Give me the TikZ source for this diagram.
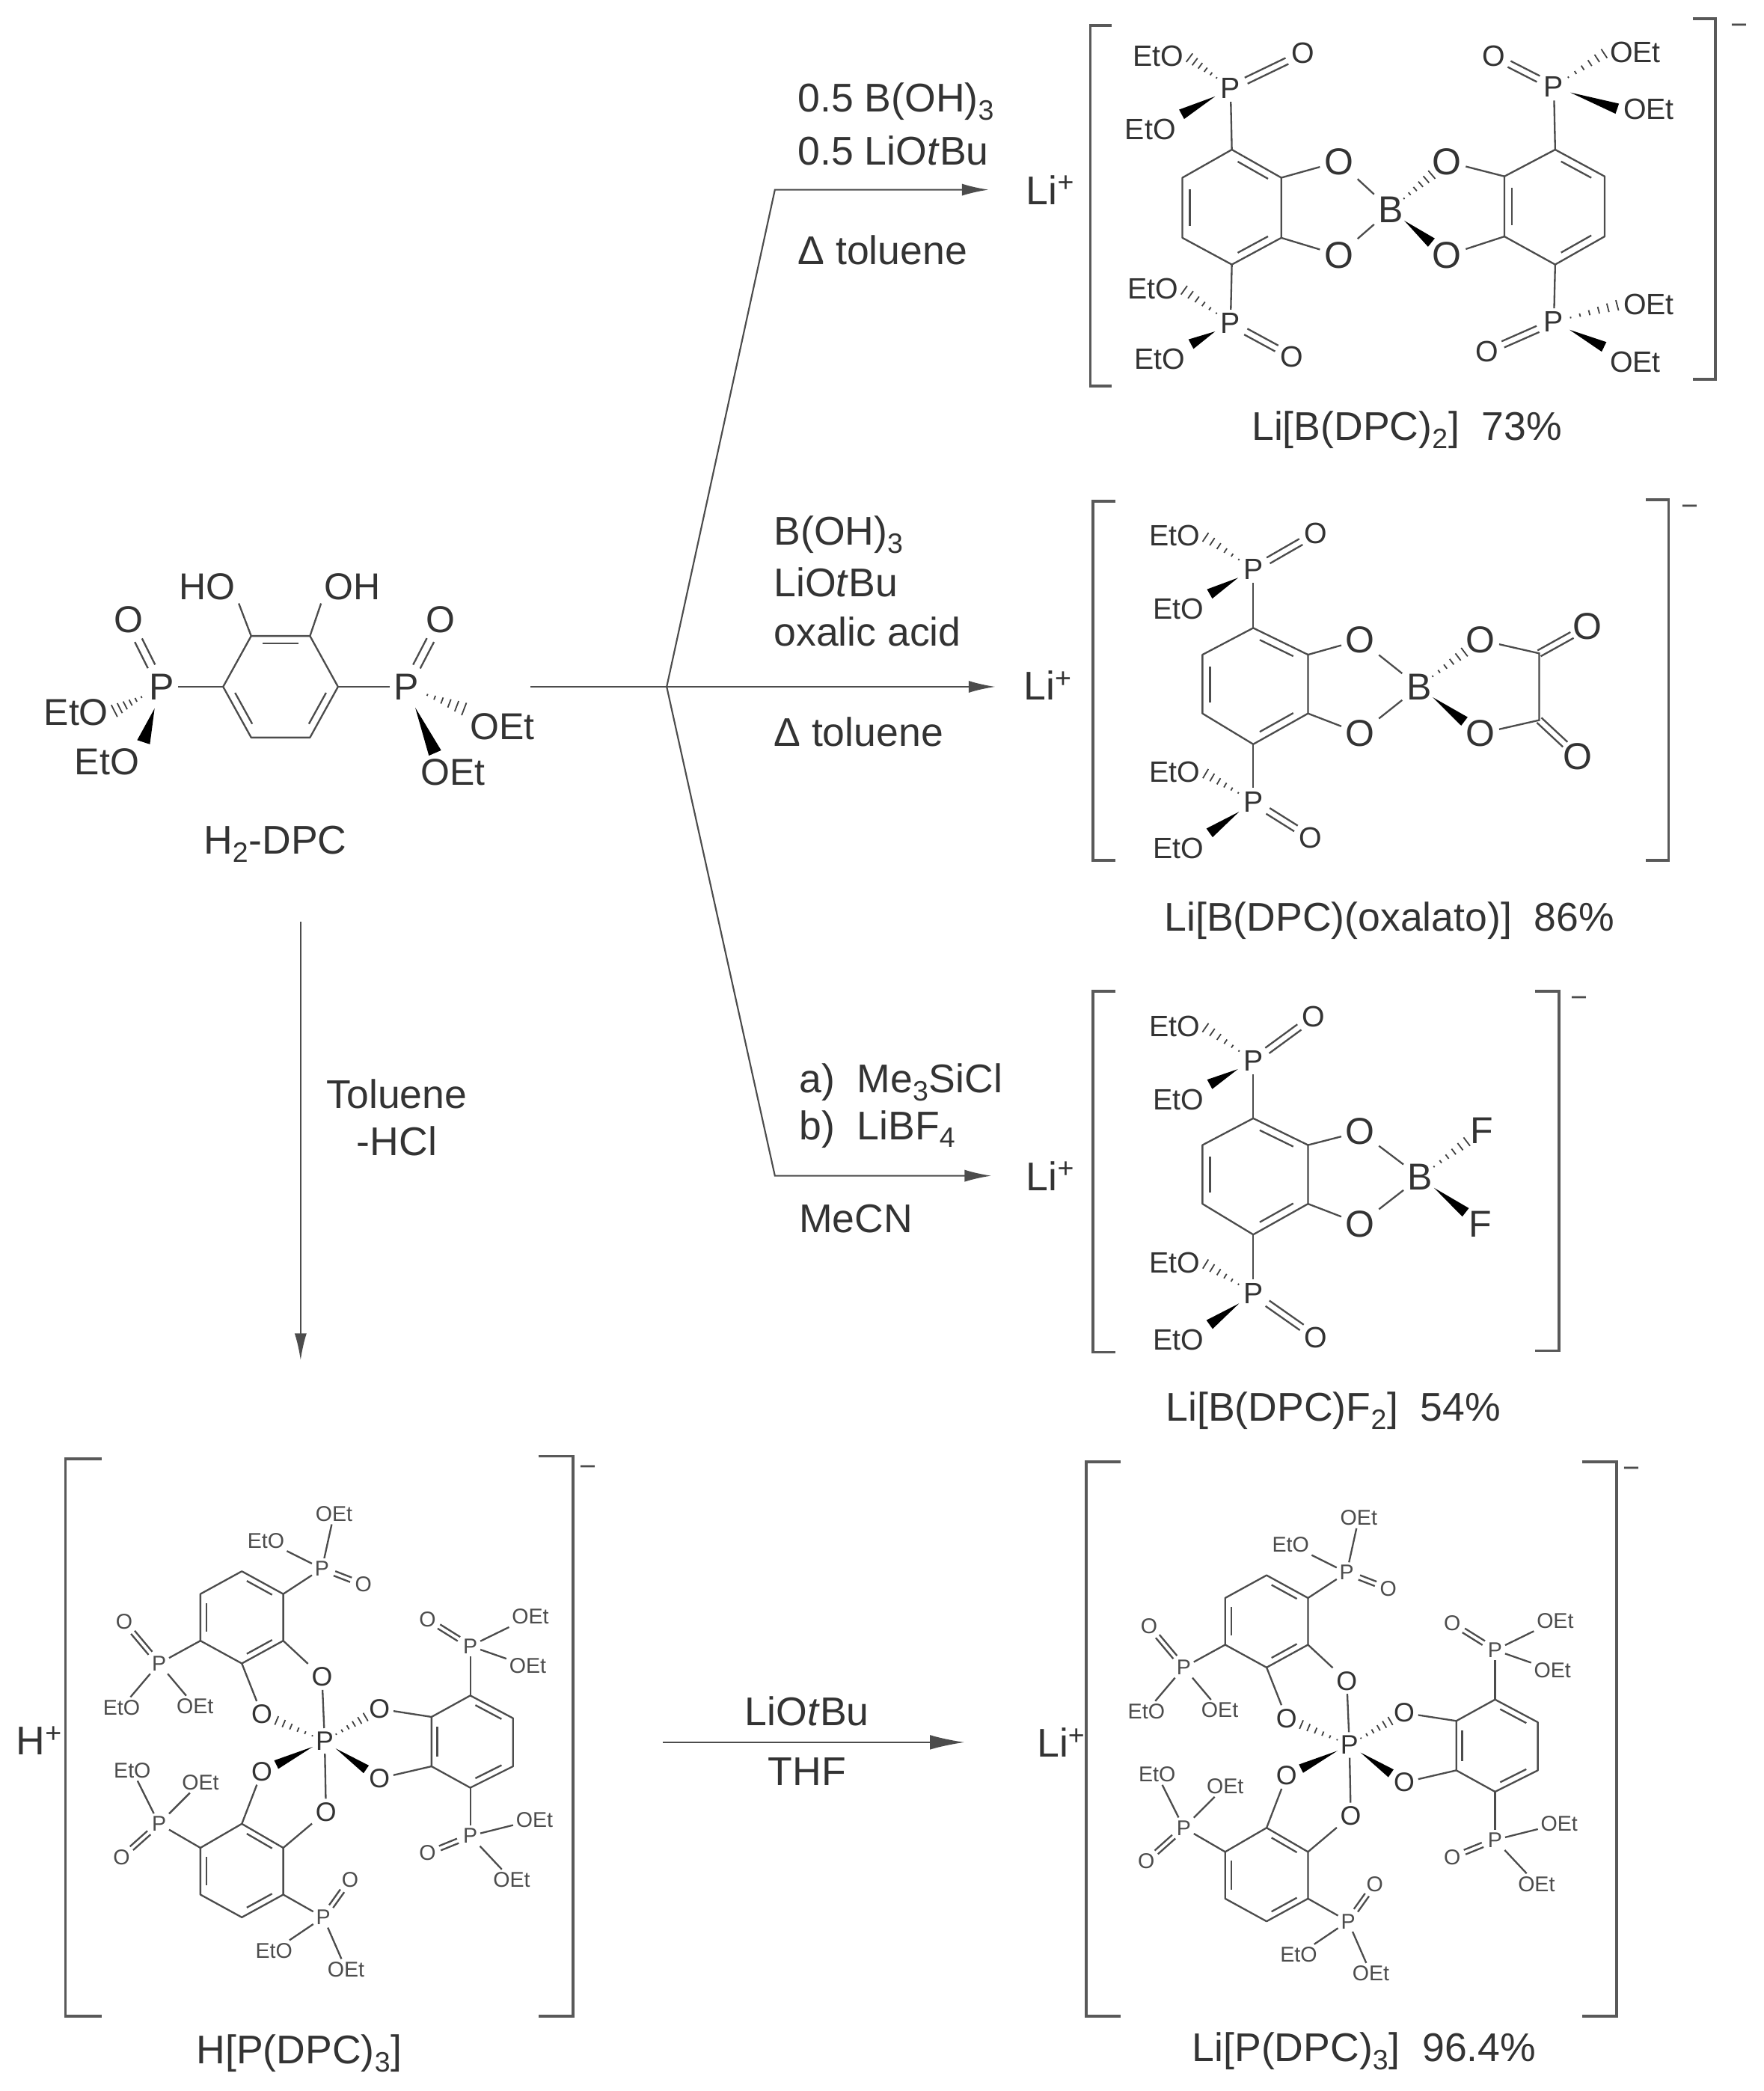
\documentclass[tikz,border=0pt]{standalone}
\usepackage{fontspec}
\setmainfont{Liberation Sans}
\usetikzlibrary{calc,arrows.meta}

\tikzset{
	bond/.style={line width=1.3pt, draw=black!70},
	brk/.style={line width=2pt, draw=black!65},
	rxn/.style={line width=1.2pt, draw=black!70, -{Latex[length=20pt,width=9pt]}},
	capt/.style={font=\fontsize{30}{34}\selectfont, text=black!80, inner sep=0pt},
	reag/.style={capt, anchor=west},
	core/.style={font=\fontsize{28}{31}\selectfont, text=black!80, inner sep=3pt},
	sub/.style={font=\fontsize{22}{25}\selectfont, text=black!80, inner sep=2.5pt},
	chg/.style={font=\fontsize{22}{25}\selectfont, text=black!70, inner sep=0pt},
	pcore/.style={font=\fontsize{20}{23}\selectfont, text=black!80, inner sep=2.5pt},
	psub/.style={font=\fontsize{16}{19}\selectfont, text=black!70, inner sep=2pt},
	pcomplex/.pic={
		\def\atomgap{10pt}\def\wedgew{3.5}\def\dblw{1.8pt}
		% central P and its oxygens
		\node[pcore] (pc) at (243,1303) {P};
		\node[pcore] (oa) at (241,1255) {O};
		\node[pcore] (ob) at (196,1283) {O};
		\node[pcore] (oc) at (196,1326) {O};
		\node[pcore] (od) at (244,1356) {O};
		\node[pcore] (oe) at (284,1279) {O};
		\node[pcore] (of) at (284,1331) {O};
		\draw[bond] (pc) -- (oa);
		\draw[bond] (pc) -- (od);
		\hashbond[12pt]{pc}{ob}
		\hashbond[12pt]{pc}{oe}
		\wedgebond[12pt]{pc}{oc}
		\wedgebond[12pt]{pc}{of}
		% rings
		\hexring{ra}{181,1176}{212,1193}{212,1228}{181,1245}{150,1228}{150,1193}
		\hexring{rb}{181,1365}{212,1383}{212,1418}{181,1435}{150,1418}{150,1383}
		\hexring{rc}{352,1269}{384,1286}{384,1322}{352,1338}{323,1322}{323,1285}
		\draw[bond] (ra3) -- (oa);
		\draw[bond] (ra4) -- (ob);
		\draw[bond] (rb1) -- (oc);
		\draw[bond] (rb2) -- (od);
		\draw[bond] (rc6) -- (oe);
		\draw[bond] (rc5) -- (of);
		% phosphonate groups
		\smallphos{ga}{241,1174}{OEt}{250,1133}{EtO}{199,1153}{272,1186}
		\smallphos{gb}{119,1245}{EtO}{91,1278}{OEt}{146,1277}{93,1214}
		\smallphos{gc}{119,1365}{EtO}{99,1325}{OEt}{150,1334}{91,1390}
		\smallphos{gd}{242,1435}{EtO}{205,1460}{OEt}{259,1474}{262,1407}
		\smallphos{ge}{352,1232}{OEt}{397,1210}{OEt}{395,1247}{320,1212}
		\smallphos{gf}{352,1374}{OEt}{400,1362}{OEt}{383,1407}{320,1387}
		\draw[bond] (ra2) -- (gap);
		\draw[bond] (ra5) -- (gbp);
		\draw[bond] (rb6) -- (gcp);
		\draw[bond] (rb3) -- (gdp);
		\draw[bond] (rc1) -- (gep);
		\draw[bond] (rc4) -- (gfp);
	}
}

\def\atomgap{13pt}
\def\wedgew{4}
\def\dblw{2.5pt}

% wedge and hash go from a P or B to an atom, optional arg = gap at the far end
\newcommand{\wedgebond}[3][2pt]{
	\fill[black] ($(#2)!\atomgap!(#3)$) -- ($(#3)!#1!(#2)!\wedgew pt!90:(#2)$) -- ($(#3)!#1!(#2)!\wedgew pt!-90:(#2)$) -- cycle;
}
\newcommand{\hashbond}[3][2pt]{
	\coordinate (hs) at ($(#2)!\atomgap!(#3)$);
	\coordinate (he) at ($(#3)!#1!(#2)$);
	\foreach \t in {0,.2,.4,.6,.8,1}{
		\pgfmathsetmacro{\hw}{(0.15+\t*0.85)*\wedgew}
		\draw[line width=1pt, black!75] ($(hs)!\t!(he)+(hs)!\hw pt!90:(he)-(hs)$) -- ($(hs)!\t!(he)+(hs)!\hw pt!-90:(he)-(hs)$);
	}
}
\newcommand{\dblbond}[3][\atomgap]{
	\draw[bond] ($(#2)!#1!(#3)!\dblw!90:(#3)$) -- ($(#3)!\atomgap!(#2)!\dblw!-90:(#2)$);
	\draw[bond] ($(#2)!#1!(#3)!\dblw!-90:(#3)$) -- ($(#3)!\atomgap!(#2)!\dblw!90:(#2)$);
}
% six corners, double bonds always on 1-2, 3-4, 5-6
\newcommand{\hexring}[7]{
	\draw[bond, line join=round] (#2) coordinate (#11) -- (#3) coordinate (#12) -- (#4) coordinate (#13) -- (#5) coordinate (#14) -- (#6) coordinate (#15) -- (#7) coordinate (#16) -- cycle;
	\coordinate (#1c) at ($(#11)!.5!(#14)$);
	\draw[bond] ($(#11)!.14!(#12)!.15!(#1c)$) -- ($(#12)!.14!(#11)!.15!(#1c)$);
	\draw[bond] ($(#13)!.14!(#14)!.15!(#1c)$) -- ($(#14)!.14!(#13)!.15!(#1c)$);
	\draw[bond] ($(#15)!.14!(#16)!.15!(#1c)$) -- ($(#16)!.14!(#15)!.15!(#1c)$);
}
% name, P, hash pos, text, anchor, wedge pos, text, anchor, O pos
\newcommand{\phos}[9]{
	\node[sub] (#1p) at (#2) {P};
	\node[sub] (#1h) at (#3) {#4};
	\node[sub] (#1w) at (#6) {#7};
	\node[sub] (#1o) at (#9) {O};
	\hashbond{#1p}{#1h.#5}
	\wedgebond{#1p}{#1w.#8}
	\dblbond{#1p}{#1o}
}
% the plain version used in the P complexes
\newcommand{\smallphos}[7]{
	\node[psub] (#1p) at (#2) {P};
	\node[psub] (#1h) at (#4) {#3};
	\node[psub] (#1w) at (#6) {#5};
	\node[psub] (#1o) at (#7) {O};
	\draw[bond] (#1p) -- (#1h);
	\draw[bond] (#1p) -- (#1w);
	\dblbond{#1p}{#1o}
}

\begin{document}
\begin{tikzpicture}[x=1pt,y=-1pt]
	\useasboundingbox (0,0) rectangle (1320,1565);

	% Arrows
	\coordinate (start) at (397,514);
	\coordinate (fork) at (499,514);
	\coordinate (endB) at (745,514);
	\coordinate (bendA) at (580,142);
	\coordinate (endA) at (740,142);
	\coordinate (bendC) at (580,880);
	\coordinate (endC) at (742,880);
	\coordinate (downS) at (225,690);
	\coordinate (downE) at (225,1018);
	\coordinate (lowS) at (496,1304);
	\coordinate (lowE) at (722,1304);
	\draw[rxn] (start) -- (endB);
	\draw[rxn] (fork) -- (bendA) -- (endA);
	\draw[rxn] (fork) -- (bendC) -- (endC);
	\draw[rxn] (downS) -- (downE);
	\draw[rxn, -{Latex[length=26pt,width=11pt]}] (lowS) -- (lowE);

	% Reagents
	\node[reag] (reagA) at (597,76) {0.5 B(OH)\textsubscript{3}};
	\node[reag] (reagB) at (597,113) {0.5 LiO\textit{t}Bu};
	\node[reag] (reagC) at (597,187) {Δ toluene};
	\node[reag] (reagD) at (579,400) {B(OH)\textsubscript{3}};
	\node[reag] (reagE) at (579,436) {LiO\textit{t}Bu};
	\node[reag] (reagF) at (579,473) {oxalic acid};
	\node[reag] (reagG) at (579,548) {Δ toluene};
	\node[reag] (reagH) at (598,810) {a)~~Me\textsubscript{3}SiCl};
	\node[reag] (reagI) at (598,845) {b)~~LiBF\textsubscript{4}};
	\node[reag] (reagJ) at (598,912) {MeCN};
	\node[capt] (reagK) at (297,819) {Toluene};
	\node[capt] (reagL) at (297,854) {-HCl};
	\node[capt] (reagM) at (604,1281) {LiO\textit{t}Bu};
	\node[capt] (reagN) at (604,1326) {THF};

	% Captions and counter ions
	\node[capt] (capA) at (206,632) {H\textsubscript{2}-DPC};
	\node[capt] (capB) at (1053,322) {Li[B(DPC)\textsubscript{2}]~~73\%};
	\node[capt] (capC) at (1040,689) {Li[B(DPC)(oxalato)]~~86\%};
	\node[capt] (capD) at (998,1056) {Li[B(DPC)F\textsubscript{2}]~~54\%};
	\node[capt] (capE) at (224,1537) {H[P(DPC)\textsubscript{3}]};
	\node[capt] (capF) at (1021,1535) {Li[P(DPC)\textsubscript{3}]~~96.4\%};
	\node[reag] (ionA) at (768,142) {Li\textsuperscript{+}};
	\node[reag] (ionB) at (766,513) {Li\textsuperscript{+}};
	\node[reag] (ionC) at (768,880) {Li\textsuperscript{+}};
	\node[reag] (ionD) at (12,1303) {H\textsuperscript{+}};
	\node[reag] (ionE) at (776,1304) {Li\textsuperscript{+}};

	% H2-DPC
	\begin{scope}[sub/.append style={font=\fontsize{28}{31}\selectfont}]
		\def\atomgap{17pt}\def\wedgew{5}\def\dblw{3pt}
		\hexring{da}{188,476}{232,476}{253,514}{232,552}{188,552}{167,514}
		\node[sub] (hoa) at (155,439) {HO};
		\node[sub] (hob) at (264,439) {OH};
		\draw[bond] (da1) -- (hoa.south east);
		\draw[bond] (da2) -- (hob.south west);
		\phos{dl}{121,514}{57,533}{EtO}{east}{80,570}{EtO}{north east}{96,464}
		\phos{dr}{304,514}{376,544}{OEt}{north west}{339,578}{OEt}{135}{330,464}
		\draw[bond] (da6) -- (dlp);
		\draw[bond] (da3) -- (drp);
	\end{scope}

	% Li[B(DPC)2]
	\draw[brk] (832,19) -- (816,19) -- (816,289) -- (832,289);
	\draw[brk] (1267,14) -- (1284,14) -- (1284,284) -- (1267,284);
	\node[chg] (minA) at (1302,22) {−};
	\hexring{ta}{922,112}{959,133}{959,178}{922,198}{885,178}{885,133}
	\hexring{tb}{1164,112}{1201,132}{1201,177}{1164,198}{1126,177}{1126,132}
	\node[core] (tb0) at (1041,157) {B};
	\node[core] (to1) at (1002,121) {O};
	\node[core] (to2) at (1002,191) {O};
	\node[core] (to3) at (1083,121) {O};
	\node[core] (to4) at (1083,191) {O};
	\draw[bond] (ta2) -- (to1) -- (tb0) -- (to2) -- (ta3);
	\draw[bond] (tb6) -- (to3);
	\draw[bond] (tb5) -- (to4);
	\hashbond[15pt]{tb0}{to3}
	\wedgebond[15pt]{tb0}{to4}
	\phos{tp}{921,66}{867,42}{EtO}{east}{861,97}{EtO}{north east}{975,40}
	\phos{tq}{921,242}{863,216}{EtO}{east}{868,269}{EtO}{north east}{967,267}
	\phos{tr}{1163,65}{1224,39}{OEt}{west}{1234,82}{OEt}{west}{1118,42}
	\phos{ts}{1163,241}{1234,228}{OEt}{west}{1224,271}{OEt}{north west}{1113,263}
	\draw[bond] (ta1) -- (tpp);
	\draw[bond] (ta4) -- (tqp);
	\draw[bond] (tb1) -- (trp);
	\draw[bond] (tb4) -- (tsp);

	% Li[B(DPC)(oxalato)]
	\draw[brk] (835,375) -- (818,375) -- (818,644) -- (835,644);
	\draw[brk] (1232,374) -- (1249,374) -- (1249,644) -- (1232,644);
	\node[chg] (minB) at (1265,382) {−};
	\hexring{ma}{938,470}{979,490}{979,534}{938,557}{900,534}{900,490}
	\node[core] (mb0) at (1062,514) {B};
	\node[core] (mo1) at (1018,479) {O};
	\node[core] (mo2) at (1018,549) {O};
	\node[core] (mo3) at (1108,479) {O};
	\node[core] (mo4) at (1108,549) {O};
	\node[core] (mo5) at (1188,469) {O};
	\node[core] (mo6) at (1181,566) {O};
	\coordinate (mc1) at (1152,489);
	\coordinate (mc2) at (1152,539);
	\draw[bond] (ma2) -- (mo1) -- (mb0) -- (mo2) -- (ma3);
	\draw[bond] (mo3) -- (mc1) -- (mc2) -- (mo4);
	\dblbond[0pt]{mc1}{mo5}
	\dblbond[0pt]{mc2}{mo6}
	\hashbond[15pt]{mb0}{mo3}
	\wedgebond[15pt]{mb0}{mo4}
	\phos{mp}{938,426}{879,401}{EtO}{east}{882,456}{EtO}{north east}{985,399}
	\phos{mq}{938,600}{879,578}{EtO}{east}{882,635}{EtO}{north east}{981,627}
	\draw[bond] (ma1) -- (mpp);
	\draw[bond] (ma4) -- (mqp);

	% Li[B(DPC)F2]
	\draw[brk] (835,742) -- (818,742) -- (818,1012) -- (835,1012);
	\draw[brk] (1149,742) -- (1167,742) -- (1167,1011) -- (1149,1011);
	\node[chg] (minC) at (1182,750) {−};
	\hexring{fa}{938,837}{979,857}{979,901}{938,924}{900,901}{900,857}
	\node[core] (fb0) at (1063,881) {B};
	\node[core] (fo1) at (1018,847) {O};
	\node[core] (fo2) at (1018,916) {O};
	\node[core] (ff1) at (1109,846) {F};
	\node[core] (ff2) at (1108,916) {F};
	\draw[bond] (fa2) -- (fo1) -- (fb0) -- (fo2) -- (fa3);
	\hashbond[14pt]{fb0}{ff1}
	\wedgebond[14pt]{fb0}{ff2}
	\phos{fp}{938,794}{879,768}{EtO}{east}{882,823}{EtO}{north east}{983,761}
	\phos{fq}{938,968}{879,945}{EtO}{east}{882,1003}{EtO}{north east}{985,1001}
	\draw[bond] (fa1) -- (fpp);
	\draw[bond] (fa4) -- (fqp);

	% H[P(DPC)3] and Li[P(DPC)3]
	\draw[brk] (76,1092) -- (49,1092) -- (49,1509) -- (76,1509);
	\draw[brk] (403,1090) -- (429,1090) -- (429,1509) -- (403,1509);
	\node[chg] (minD) at (440,1101) {−};
	\pic (hp) at (0,0) {pcomplex};
	\draw[brk] (839,1094) -- (813,1094) -- (813,1509) -- (839,1509);
	\draw[brk] (1184,1094) -- (1210,1094) -- (1210,1509) -- (1184,1509);
	\node[chg] (minE) at (1221,1102) {−};
	\pic (lp) at (767,3) {pcomplex};
\end{tikzpicture}
\end{document}
